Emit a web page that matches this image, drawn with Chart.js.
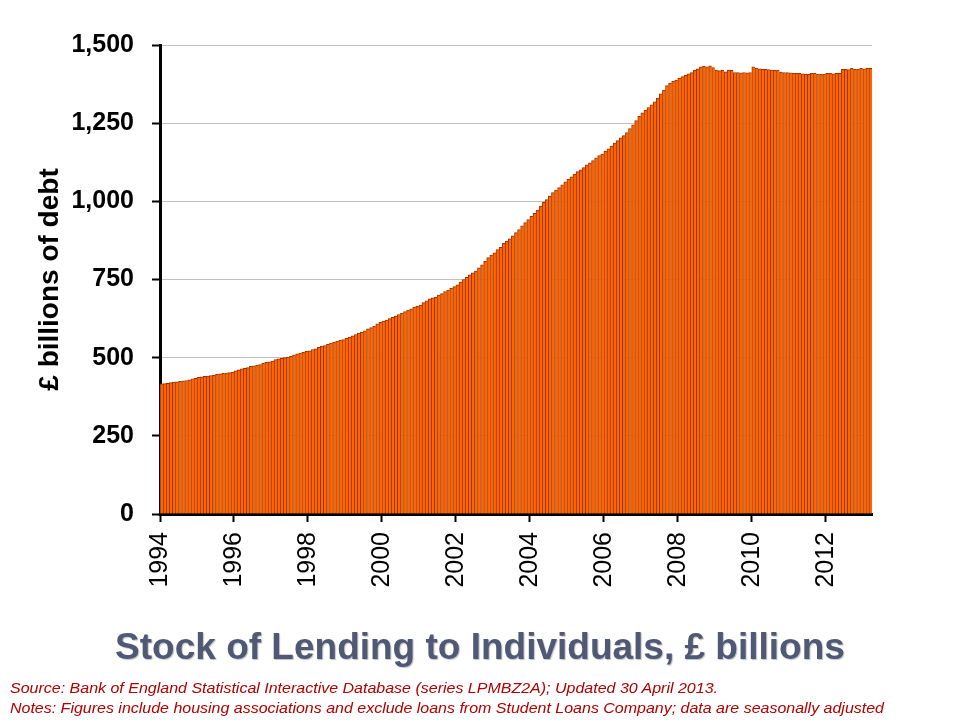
<!DOCTYPE html>
<html>
<head>
<meta charset="utf-8">
<title>Stock of Lending to Individuals</title>
<script src="https://cdn.jsdelivr.net/npm/chart.js@4.4.1/dist/chart.umd.min.js"></script>
<style>
    html, body { margin: 0; padding: 0; background: #fff; }
    #wrap { position: relative; width: 960px; height: 720px; overflow: hidden; }
    #chart { position: absolute; left: 0; top: 0; }
    .title {
        position: absolute; left: 0; width: 960px; top: 626px;
        text-align: center; line-height: 44px;
        font: bold 37px "Liberation Sans", Arial, sans-serif;
        color: #4F5874;
        text-shadow: 1px 1px 1px rgba(0, 0, 0, 0.25);
    }
    .note {
        position: absolute; left: 10px; line-height: 20px;
        font: italic 15px "Liberation Sans", Arial, sans-serif;
        color: #B00000; white-space: nowrap;
        transform-origin: left center;
    }
</style>
</head>
<body>
<div id="wrap">
    <canvas id="chart" width="960" height="720"></canvas>
    <div class="title">Stock of Lending to Individuals, £ billions</div>
    <div class="note" id="note1" style="top:679px">Source: Bank of England Statistical Interactive Database (series LPMBZ2A); Updated 30 April 2013.</div>
    <div class="note" id="note2" style="top:699px">Notes: Figures include housing associations and exclude loans from Student Loans Company; data are seasonally adjusted</div>
</div>
<script>
// data, monthly from January 1994 (£ billions)
const startYear = 1994;
const yearTicks = [1994, 1996, 1998, 2000, 2002, 2004, 2006, 2008, 2010, 2012];
const valueTicks = [0, 250, 500, 750, 1000, 1250, 1500];
const lending = [
    416, 417, 418, 420, 422, 423, 424, 426, 427, 429, 432, 434,             // 1994
    437, 439, 440, 441, 443, 444, 447, 448, 450, 451, 452, 454,             // 1995
    458, 461, 464, 466, 468, 472, 474, 476, 478, 482, 485, 487,             // 1996
    489, 494, 496, 498, 500, 502, 504, 509, 512, 515, 517, 520,             // 1997
    522, 526, 528, 533, 537, 539, 543, 547, 550, 553, 556, 558,             // 1998
    562, 566, 570, 574, 579, 582, 586, 592, 596, 600, 608, 613,             // 1999
    617, 620, 625, 629, 633, 638, 643, 647, 652, 656, 662, 665,             // 2000
    668, 676, 682, 688, 691, 694, 700, 705, 711, 716, 722, 727,             // 2001
    733, 742, 750, 757, 765, 771, 777, 787, 797, 808, 820, 828,             // 2002
    835, 846, 853, 866, 873, 880, 890, 900, 910, 922, 932, 942,             // 2003
    952, 962, 972, 985, 997, 1006, 1017, 1028, 1036, 1044, 1053, 1062,      // 2004
    1070, 1078, 1086, 1095, 1101, 1108, 1117, 1123, 1130, 1139, 1146, 1151, // 2005
    1160, 1168, 1177, 1186, 1194, 1203, 1210, 1220, 1233, 1245, 1258, 1272, // 2006
    1283, 1292, 1300, 1309, 1318, 1330, 1344, 1356, 1370, 1378, 1384, 1388, // 2007
    1394, 1399, 1403, 1408, 1412, 1419, 1424, 1430, 1432, 1430, 1433, 1428, // 2008
    1420, 1418, 1420, 1414, 1420, 1419, 1412, 1412, 1411, 1412, 1411, 1412, // 2009
    1430, 1426, 1424, 1422, 1422, 1421, 1420, 1419, 1420, 1413, 1412, 1412, // 2010
    1411, 1409, 1409, 1409, 1408, 1406, 1406, 1409, 1409, 1407, 1407, 1407, // 2011
    1409, 1409, 1408, 1409, 1409, 1422, 1422, 1421, 1425, 1422, 1422, 1425, // 2012
    1424, 1425, 1425                                                        // 2013
];

// each bar sits in the middle of its month
const points = lending.map((v, i) => ({ x: startYear + (i + 0.5) / 12, y: v }));

const ctx = document.getElementById('chart');
const lendingChart = new Chart(ctx, {
    type: 'bar',
    data: {
        datasets: [{
            data: points,
            backgroundColor: '#FF6600',
            borderColor: '#993300',
            borderWidth: { top: 1, left: 1, right: 0, bottom: 0 },
            barPercentage: 1,
            categoryPercentage: 1
        }]
    },
    options: {
        responsive: false,
        animation: false,
        devicePixelRatio: 1,
        layout: { padding: { left: 33, right: 88, top: 45, bottom: 0 } },
        plugins: {
            legend: { display: false },
            tooltip: { enabled: false }
        },
        scales: {
            x: {
                type: 'linear',
                offset: false,
                min: startYear,
                max: startYear + lending.length / 12,
                afterBuildTicks: function(scale) {
                    scale.ticks = yearTicks.map(v => ({ value: v }));
                },
                afterFit: function(scale) {
                    scale.height = 206;
                },
                ticks: {
                    autoSkip: false,
                    minRotation: 90,
                    maxRotation: 90,
                    padding: 10,
                    color: '#000',
                    font: { family: 'Liberation Sans', size: 25 },
                    callback: function(value) { return String(value); }
                },
                grid: {
                    offset: false,
                    drawOnChartArea: false,
                    tickLength: 8,
                    tickColor: '#000',
                    tickWidth: 2
                },
                border: { color: '#000', width: 3 }
            },
            y: {
                min: 0,
                max: 1500,
                afterBuildTicks: function(scale) {
                    scale.ticks = valueTicks.map(v => ({ value: v }));
                },
                afterFit: function(scale) {
                    scale.width = 127;
                },
                ticks: {
                    padding: 18,
                    color: '#000',
                    font: { family: 'Liberation Sans', size: 25, weight: 'bold' },
                    callback: function(value) { return value.toLocaleString('en-US'); }
                },
                grid: {
                    color: '#C0C0C0',
                    lineWidth: 1,
                    tickLength: 8,
                    tickColor: '#000',
                    tickWidth: 2
                },
                border: { color: '#000', width: 3 },
                title: {
                    display: true,
                    text: '£ billions of debt',
                    color: '#000',
                    font: { family: 'Liberation Sans', size: 28, weight: 'bold' },
                    padding: { top: 0, bottom: 0 }
                }
            }
        }
    }
});

// squeeze the footnotes to the width they take in the original
function fitWidth(id, target) {
    const el = document.getElementById(id);
    const w = el.getBoundingClientRect().width;
    if (w > 0) el.style.transform = 'scaleX(' + (target / w) + ')';
}
fitWidth('note1', 708);
fitWidth('note2', 874);
</script>
</body>
</html>
